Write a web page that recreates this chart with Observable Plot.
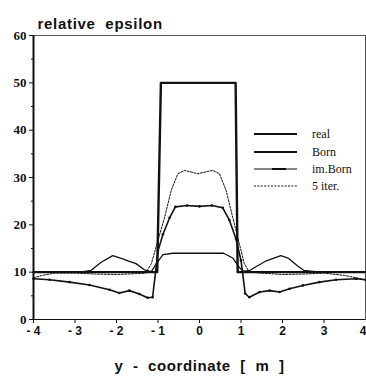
<!DOCTYPE html>
<html>
<head>
<meta charset="utf-8">
<script src="https://cdn.jsdelivr.net/npm/d3@7"></script>
<script src="https://cdn.jsdelivr.net/npm/@observablehq/plot@0.6"></script>
<style>
  html, body { margin: 0; padding: 0; background: #fff; }
  #chart { width: 366px; height: 382px; }
  .ttl text { letter-spacing: 0.7px; white-space: pre; }
  .xlab text { letter-spacing: 0.6px; white-space: pre; }
</style>
</head>
<body>
<div id="chart"></div>
<script>
// ---- data ----
const titleText = "relative  epsilon";
const xLabelText = "y  -  coordinate  [  m  ]";
const xTicks = [-4, -3, -2, -1, 0, 1, 2, 3];
const xLastTick = [4];
const yTicks = [0, 10, 20, 30, 40, 50, 60];
const yMinorTicks = [5, 15, 25, 35, 45, 55];
const seriesNames = ["real", "Born", "im.Born", "5 iter."];

const realX = [-4, -1.02, -0.93, 0.87, 0.92, 4];
const realY = [10, 10, 50, 50, 10, 10];

const bornX = [-4, -2.8, -2.61, -2.37, -2.09, -1.85, -1.69, -1.53, -1.33, -1.16, -1.04, -0.88, -0.64, 0.58, 0.8, 0.96, 1.06, 1.2, 1.37, 1.61, 1.96, 2.15, 2.35, 2.51, 2.8, 4];
const bornY = [10.1, 10.1, 10.4, 12.1, 13.5, 12.8, 12.3, 11.8, 10.5, 10.1, 11.8, 13.7, 14, 14, 13.0, 11.0, 10.2, 10.3, 11.2, 12.4, 13.5, 12.9, 11.4, 10.4, 10.1, 10.1];

const imBornX = [-4.0, -3.61, -3.13, -2.65, -2.17, -1.93, -1.69, -1.45, -1.25, -1.13, -1.0, -0.88, -0.72, -0.58, -0.3, 0, 0.3, 0.56, 0.72, 0.88, 1.0, 1.1, 1.2, 1.45, 1.69, 1.93, 2.17, 2.49, 2.89, 3.29, 3.78, 4.0];
const imBornY = [8.6, 8.4, 7.9, 7.3, 6.3, 5.6, 6.1, 5.4, 4.6, 4.7, 14.5, 18.0, 21.5, 23.8, 24.1, 23.9, 24.1, 23.6, 21.0, 17.0, 12.5, 5.5, 4.7, 5.8, 6.1, 5.8, 6.5, 7.2, 7.9, 8.4, 8.6, 8.4];

const iterX = [-4.0, -3.8, -3.5, -3.0, -2.5, -2.0, -1.5, -1.3, -1.16, -1.0, -0.84, -0.68, -0.52, -0.36, -0.04, 0.32, 0.48, 0.64, 0.8, 0.96, 1.08, 1.2, 1.5, 2.0, 2.5, 3.0, 3.5, 4.0];
const iterY = [8.8, 9.3, 9.8, 9.8, 9.6, 9.5, 9.7, 9.8, 11.8, 16.7, 21.6, 27.3, 30.8, 31.5, 30.8, 31.5, 30.8, 27.3, 21.6, 16, 11.8, 10, 9.8, 9.5, 9.6, 9.8, 9.3, 8.4];

// ---- tables built from the arrays ----
const toRows = (xs, ys) => xs.map((x, i) => ({x, y: ys[i]}));
const real = toRows(realX, realY);
const born = toRows(bornX, bornY);
const imBorn = toRows(imBornX, imBornY);
const iter = toRows(iterX, iterY);

const fmtX = d => d < 0 ? "- " + Math.abs(d) : String(d);

// legend drawn in frame pixel space
const legendStyles = [
  {width: 2.2, dash: null},
  {width: 1.8, dash: null},
  {width: 1, dash: null, bump: true},
  {width: 1, dash: "2,1.4"}
];
function legendMark() {
  const g = d3.create("svg:g");
  const x0 = 254, x1 = 297, tx = 312;
  const ys = [134, 152, 169, 186];
  seriesNames.forEach((name, i) => {
    const s = legendStyles[i];
    const l = g.append("line").attr("x1", x0).attr("x2", x1).attr("y1", ys[i]).attr("y2", ys[i])
      .attr("stroke", "#111").attr("stroke-width", s.width);
    if (s.dash) l.attr("stroke-dasharray", s.dash);
    if (s.bump) g.append("line").attr("x1", 272).attr("x2", 286).attr("y1", ys[i]).attr("y2", ys[i])
      .attr("stroke", "#111").attr("stroke-width", 2);
    g.append("text").attr("x", tx).attr("y", ys[i] + 4)
      .attr("text-anchor", "start")
      .attr("font-family", "Liberation Serif").attr("font-size", 12).attr("fill", "#111")
      .text(name);
  });
  return g.node();
}

const chart = Plot.plot({
  width: 366,
  height: 382,
  marginLeft: 33,
  marginRight: 1,
  marginTop: 35,
  marginBottom: 63,
  style: {background: "#fff", color: "#111"},
  x: {domain: [-4, 4]},
  y: {domain: [0, 60]},
  marks: [
    Plot.frame({stroke: "#555", strokeWidth: 1}),
    Plot.ruleX([-4], {stroke: "#111", strokeWidth: 2}),
    Plot.ruleY([0], {stroke: "#111", strokeWidth: 1.2}),
    Plot.axisY({ticks: yTicks, tickSize: 4, tickPadding: 3, fontFamily: "Liberation Serif", fontWeight: "bold", fontSize: 13, label: null, tickFormat: d => String(d)}),
    Plot.axisY({ticks: yMinorTicks, tickSize: 2, text: null, label: null}),
    Plot.axisX({ticks: xTicks, tickSize: 4, tickPadding: 3, fontFamily: "Liberation Sans", fontWeight: "bold", fontSize: 12, label: null, tickFormat: fmtX}),
    Plot.axisX({ticks: xLastTick, tickSize: 4, tickPadding: 3, fontFamily: "Liberation Sans", fontWeight: "bold", fontSize: 12, label: null, tickFormat: fmtX, textAnchor: "end", dx: 1}),
    Plot.line(iter, {x: "x", y: "y", stroke: "#111", strokeWidth: 1, strokeDasharray: "2,1.4"}),
    Plot.line(imBorn, {x: "x", y: "y", stroke: "#111", strokeWidth: 1.6}),
    Plot.dot(imBorn, {x: "x", y: "y", r: 1.3, fill: "#111"}),
    Plot.line(born, {x: "x", y: "y", stroke: "#111", strokeWidth: 1.3}),
    Plot.line(real, {x: "x", y: "y", stroke: "#111", strokeWidth: 2.4}),
    Plot.text([titleText], {className: "ttl", frameAnchor: "top-left", dx: 4, dy: -17, textAnchor: "start", fontFamily: "Liberation Sans", fontWeight: "bold", fontSize: 15, fill: "#111"}),
    Plot.text([xLabelText], {className: "xlab", frameAnchor: "bottom", dy: 51, fontFamily: "Liberation Sans", fontWeight: "bold", fontSize: 15, fill: "#111"}),
    legendMark
  ]
});
document.getElementById("chart").appendChild(chart);
</script>
</body>
</html>
